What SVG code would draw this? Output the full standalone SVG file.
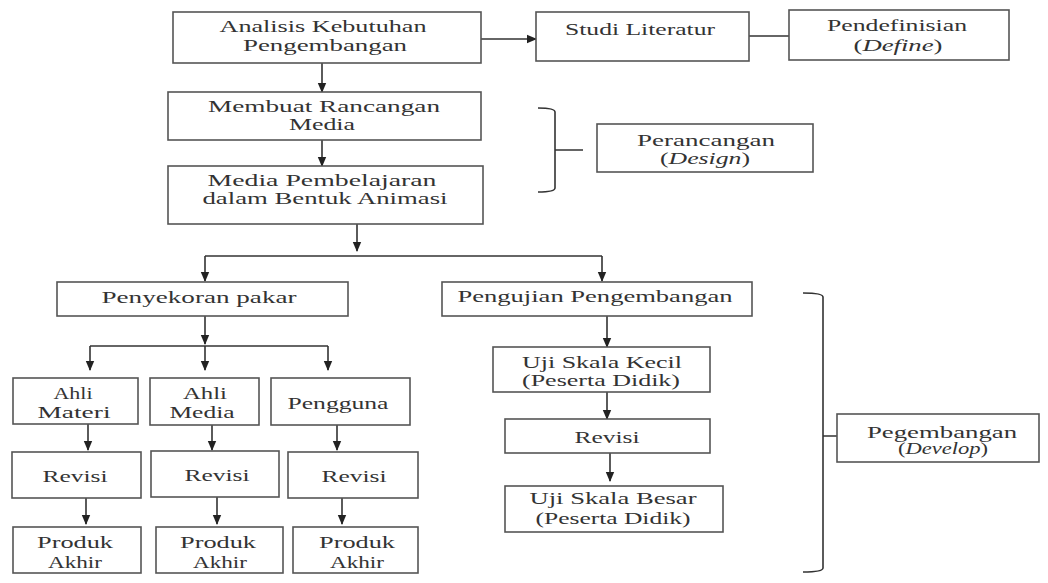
<svg xmlns="http://www.w3.org/2000/svg" width="1048" height="583" viewBox="0 0 1048 583">
<style>
rect.b{fill:#fff;stroke:#555;stroke-width:1.6}
text{font-family:"Liberation Serif","Times New Roman",serif;font-size:16px;fill:#333;text-anchor:middle}
.c{fill:none;stroke:#333;stroke-width:1.6}
.i{font-style:italic}
</style>
<defs>
<marker id="ah" markerUnits="userSpaceOnUse" markerWidth="10" markerHeight="10" viewBox="0 0 10 10" refX="9" refY="5" orient="auto">
<path d="M0,0.8 L10,5 L0,9.2 Z" fill="#222"/>
</marker>
</defs>
<rect width="1048" height="583" fill="#fff"/>
<g id="connectors">
<line class="c" x1="481" y1="39" x2="536" y2="39" marker-end="url(#ah)"/>
<line class="c" x1="749" y1="36" x2="789" y2="36"/>
<line class="c" x1="322" y1="63" x2="322" y2="92" marker-end="url(#ah)"/>
<line class="c" x1="322" y1="140" x2="322" y2="166" marker-end="url(#ah)"/>
<line class="c" x1="357" y1="224" x2="357" y2="251" marker-end="url(#ah)"/>
<path class="c" d="M205,256 H602"/>
<line class="c" x1="205" y1="256" x2="205" y2="281" marker-end="url(#ah)"/>
<line class="c" x1="602" y1="256" x2="602" y2="281" marker-end="url(#ah)"/>
<line class="c" x1="205" y1="316" x2="205" y2="344" marker-end="url(#ah)"/>
<path class="c" d="M90,346 H328"/>
<line class="c" x1="90" y1="346" x2="90" y2="370" marker-end="url(#ah)"/>
<line class="c" x1="205" y1="346" x2="205" y2="370" marker-end="url(#ah)"/>
<line class="c" x1="328" y1="346" x2="328" y2="370" marker-end="url(#ah)"/>
<line class="c" x1="88" y1="424" x2="88" y2="450" marker-end="url(#ah)"/>
<line class="c" x1="212" y1="425" x2="212" y2="450" marker-end="url(#ah)"/>
<line class="c" x1="337" y1="425" x2="337" y2="450" marker-end="url(#ah)"/>
<line class="c" x1="86" y1="498" x2="86" y2="524" marker-end="url(#ah)"/>
<line class="c" x1="217" y1="497" x2="217" y2="524" marker-end="url(#ah)"/>
<line class="c" x1="342" y1="498" x2="342" y2="524" marker-end="url(#ah)"/>
<line class="c" x1="607" y1="316" x2="607" y2="347" marker-end="url(#ah)"/>
<line class="c" x1="607" y1="392" x2="607" y2="419" marker-end="url(#ah)"/>
<line class="c" x1="610" y1="453" x2="610" y2="481" marker-end="url(#ah)"/>
<path class="c" d="M538,108 Q555,108 555,112 V188 Q555,192 538,192 M555,150 H583"/>
<path class="c" d="M803,293 Q823,293 823,297 V568 Q823,572 803,572 M823,436 H837"/>
</g>
<g id="analisis">
<rect class="b" x="173" y="12" width="308" height="51"/>
<text x="323" y="31.5" textLength="207" lengthAdjust="spacingAndGlyphs">Analisis Kebutuhan</text>
<text x="325" y="50.5" textLength="164" lengthAdjust="spacingAndGlyphs">Pengembangan</text>
</g>
<g id="studi">
<rect class="b" x="536" y="12" width="213" height="49"/>
<text x="640" y="34.5" textLength="150" lengthAdjust="spacingAndGlyphs">Studi Literatur</text>
</g>
<g id="define">
<rect class="b" x="789" y="10" width="220" height="50"/>
<text x="897" y="30.5" textLength="140" lengthAdjust="spacingAndGlyphs">Pendefinisian</text>
<text x="898" y="50.5" textLength="89" lengthAdjust="spacingAndGlyphs">(<tspan class="i">Define</tspan>)</text>
</g>
<g id="membuat">
<rect class="b" x="168" y="92" width="313" height="48"/>
<text x="324" y="111.5" textLength="232" lengthAdjust="spacingAndGlyphs">Membuat Rancangan</text>
<text x="322" y="129.5" textLength="66" lengthAdjust="spacingAndGlyphs">Media</text>
</g>
<g id="media">
<rect class="b" x="168" y="166" width="315" height="58"/>
<text x="322" y="185.5" textLength="229" lengthAdjust="spacingAndGlyphs">Media Pembelajaran</text>
<text x="325" y="203.5" textLength="245" lengthAdjust="spacingAndGlyphs">dalam Bentuk Animasi</text>
</g>
<g id="design">
<rect class="b" x="597" y="124" width="216" height="48"/>
<text x="706" y="145.5" textLength="138" lengthAdjust="spacingAndGlyphs">Perancangan</text>
<text x="705" y="163.5" textLength="90" lengthAdjust="spacingAndGlyphs">(<tspan class="i">Design</tspan>)</text>
</g>
<g id="penyekoran">
<rect class="b" x="57" y="282" width="291" height="34"/>
<text x="199" y="302.5" textLength="195" lengthAdjust="spacingAndGlyphs">Penyekoran pakar</text>
</g>
<g id="pengujian">
<rect class="b" x="442" y="282" width="310" height="34"/>
<text x="595" y="301.5" textLength="275" lengthAdjust="spacingAndGlyphs">Pengujian Pengembangan</text>
</g>
<g id="ahli-materi">
<rect class="b" x="13" y="378" width="125" height="46"/>
<text x="73" y="398.5" textLength="39" lengthAdjust="spacingAndGlyphs">Ahli</text>
<text x="74" y="417.5" textLength="73" lengthAdjust="spacingAndGlyphs">Materi</text>
</g>
<g id="ahli-media">
<rect class="b" x="150" y="378" width="109" height="47"/>
<text x="205" y="398.5" textLength="44" lengthAdjust="spacingAndGlyphs">Ahli</text>
<text x="202" y="417.5" textLength="65" lengthAdjust="spacingAndGlyphs">Media</text>
</g>
<g id="pengguna">
<rect class="b" x="271" y="378" width="139" height="47"/>
<text x="338" y="408.5" textLength="101" lengthAdjust="spacingAndGlyphs">Pengguna</text>
</g>
<g id="revisi-1">
<rect class="b" x="12" y="452" width="129" height="46"/>
<text x="75" y="481.5" textLength="65" lengthAdjust="spacingAndGlyphs">Revisi</text>
</g>
<g id="revisi-2">
<rect class="b" x="151" y="451" width="128" height="46"/>
<text x="217" y="480.5" textLength="65" lengthAdjust="spacingAndGlyphs">Revisi</text>
</g>
<g id="revisi-3">
<rect class="b" x="288" y="452" width="130" height="46"/>
<text x="354" y="481.5" textLength="65" lengthAdjust="spacingAndGlyphs">Revisi</text>
</g>
<g id="produk-1">
<rect class="b" x="13" y="527" width="128" height="46"/>
<text x="75" y="547.5" textLength="76" lengthAdjust="spacingAndGlyphs">Produk</text>
<text x="75" y="567.5" textLength="54" lengthAdjust="spacingAndGlyphs">Akhir</text>
</g>
<g id="produk-2">
<rect class="b" x="156" y="527" width="127" height="46"/>
<text x="218" y="547.5" textLength="76" lengthAdjust="spacingAndGlyphs">Produk</text>
<text x="220" y="567.5" textLength="54" lengthAdjust="spacingAndGlyphs">Akhir</text>
</g>
<g id="produk-3">
<rect class="b" x="293" y="527" width="125" height="46"/>
<text x="357" y="547.5" textLength="76" lengthAdjust="spacingAndGlyphs">Produk</text>
<text x="357" y="567.5" textLength="54" lengthAdjust="spacingAndGlyphs">Akhir</text>
</g>
<g id="uji-kecil">
<rect class="b" x="493" y="347" width="217" height="45"/>
<text x="602" y="367.5" textLength="160" lengthAdjust="spacingAndGlyphs">Uji Skala Kecil</text>
<text x="601" y="385.5" textLength="158" lengthAdjust="spacingAndGlyphs">(Peserta Didik)</text>
</g>
<g id="revisi-4">
<rect class="b" x="505" y="419" width="205" height="34"/>
<text x="607" y="442.5" textLength="65" lengthAdjust="spacingAndGlyphs">Revisi</text>
</g>
<g id="uji-besar">
<rect class="b" x="505" y="486" width="218" height="46"/>
<text x="613" y="503.5" textLength="167" lengthAdjust="spacingAndGlyphs">Uji Skala Besar</text>
<text x="613" y="523.5" textLength="155" lengthAdjust="spacingAndGlyphs">(Peserta Didik)</text>
</g>
<g id="develop">
<rect class="b" x="837" y="414" width="202" height="48"/>
<text x="942" y="437.5" textLength="150" lengthAdjust="spacingAndGlyphs">Pegembangan</text>
<text x="943" y="453.5" textLength="90" lengthAdjust="spacingAndGlyphs">(<tspan class="i">Develop</tspan>)</text>
</g>
</svg>
